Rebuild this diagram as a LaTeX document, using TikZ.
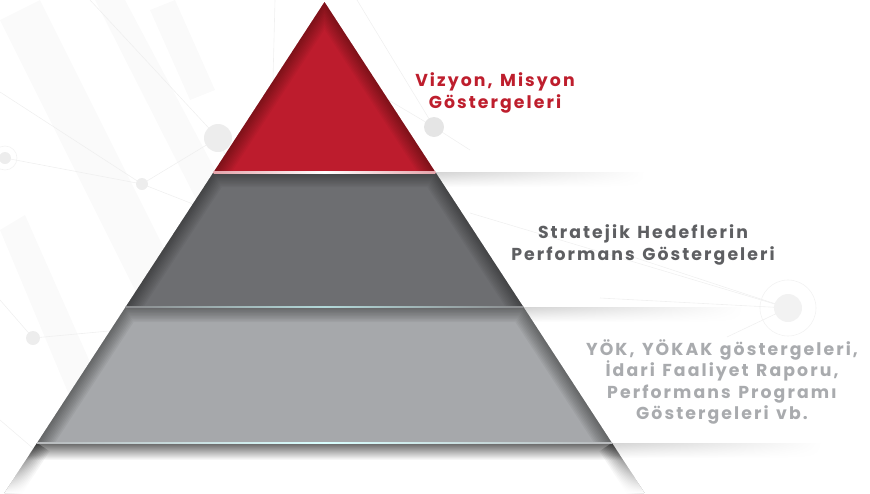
\documentclass[tikz,border=0pt]{standalone}
\usepackage{fontspec}
\setmainfont{Poppins}
\newfontfamily\tierfont{Poppins}[LetterSpace=12, WordSpace=1.3]
\usepackage{xcolor}
\usepackage{tikz}
\usetikzlibrary{positioning,fadings}

\definecolor{tierred}{HTML}{BD1C2D}
\definecolor{tierdark}{HTML}{6D6E71}
\definecolor{tierlight}{HTML}{A6A8AB}
\definecolor{txtred}{HTML}{BE1E2D}
\definecolor{txtdark}{HTML}{5E5F62}
\definecolor{txtlight}{HTML}{A9ABAE}

\tikzset{
  tiertext/.style={font=\tierfont\bfseries\fontsize{17.3}{21.5}\selectfont, align=center},
  netline/.style={draw=black!6, line width=0.6pt},
  netdot/.style={fill=black!7},
  netring/.style={draw=black!5, line width=0.6pt},
  stripe/.style={fill=black!2},
}

\begin{document}
\begin{tikzpicture}[x=1pt,y=-1pt]
\useasboundingbox (0,0) rectangle (870,493);

% Faint stripes behind the left half
\fill[stripe] (0,20) -- (40,0) -- (250,420) -- (210,440) -- cycle;
\fill[stripe] (95,0) -- (125,0) -- (300,330) -- (270,345) -- cycle;
\fill[stripe] (0,230) -- (25,215) -- (120,430) -- (90,445) -- cycle;
\fill[stripe] (150,10) -- (175,0) -- (215,90) -- (190,100) -- cycle;

% Network lines and dots
\draw[netline] (0,92) -- (142,184) -- (218,138);
\draw[netline] (5,158) -- (142,184) -- (310,250);
\draw[netline] (90,0) -- (218,138) -- (262,240);
\draw[netline] (357,0) -- (434,127);
\draw[netline] (275,0) -- (273,80);
\draw[netline] (380,95) -- (434,127) -- (470,150);
\draw[netline] (0,300) -- (33,338) -- (120,330);
\draw[netline] (0,420) -- (70,480);
\draw[netline] (470,213) -- (788,308);
\draw[netline] (633,257) -- (788,308) -- (727,337);
\draw[netline] (600,298) -- (788,308);
\draw[netline] (170,493) -- (220,443);
\draw[netline] (330,493) -- (300,443);
\fill[netdot] (218,138) circle (14);
\fill[black!10] (434,127) circle (10);
\fill[netdot] (5,158) circle (6);
\draw[netring] (5,158) circle (12);
\fill[netdot] (142,184) circle (6);
\fill[netdot] (33,338) circle (7);
\fill[black!5] (788,308) circle (14);
\draw[netring] (788,308) circle (28);

% Corner points of the pyramid
\coordinate (apex) at (324.5,2);
\coordinate (l1) at (213.7,172);
\coordinate (r1) at (435.3,172);
\coordinate (l2) at (125.6,307);
\coordinate (r2) at (523.4,307);
\coordinate (l3) at (37.0,443);
\coordinate (r3) at (612.0,443);
\coordinate (l4) at (4.4,493);
\coordinate (r4) at (644.6,493);

% Shelf shadows to the right of each step
\shade[top color=black!17, bottom color=white, path fading=east] (r1) rectangle ++(210,15);
\shade[top color=black!17, bottom color=white, path fading=east] (r2) rectangle ++(220,15);
\shade[top color=black!17, bottom color=white, path fading=east] (r3) rectangle ++(210,15);

% Top tier
\fill[tierred] (apex) -- (r1) -- (l1) -- cycle;
\begin{scope}
  \clip (apex) -- (r1) -- (l1) -- cycle;
  \foreach \w in {3,6,...,30}
    \draw[black, opacity=0.035, line width=\w] (l1) -- (apex) -- (r1);
\end{scope}

% Middle tier
\fill[tierdark] (l1) -- (r1) -- (r2) -- (l2) -- cycle;
\begin{scope}
  \clip (l1) -- (r1) -- (r2) -- (l2) -- cycle;
  \foreach \w in {3,6,...,30}
    \draw[black, opacity=0.04, line width=\w] (l2) -- (l1) -- (r1) -- (r2);
\end{scope}

% Bottom tier
\fill[tierlight] (l2) -- (r2) -- (r3) -- (l3) -- cycle;
\begin{scope}
  \clip (l2) -- (r2) -- (r3) -- (l3) -- cycle;
  \foreach \w in {3,6,...,30}
    \draw[black, opacity=0.045, line width=\w] (l3) -- (l2) -- (r2) -- (r3);
\end{scope}

% Base plinth fading out
\fill[white] (l3) -- (r3) -- (r4) -- (l4) -- cycle;
\begin{scope}
  \clip (l3) -- (r3) -- (r4) -- (l4) -- cycle;
  \shade[top color=black!60, bottom color=white] (0,443) rectangle (650,460);
  \foreach \w in {3,6,...,30}
    \draw[black, opacity=0.05, line width=\w] (l4) -- (l3) (r3) -- (r4);
  \fill[white, path fading=north] (0,455) rectangle (650,493);
\end{scope}

% Light edges between the tiers
\shade[left color=tierred!40, right color=tierred!40, middle color=white] ([yshift=-1]l1) rectangle ([yshift=1]r1);
\shade[left color=tierdark!80, right color=tierdark!80, middle color=teal!30] ([yshift=-0.8]l2) rectangle ([yshift=0.8]r2);
\shade[left color=tierlight!80, right color=tierlight!80, middle color=cyan!15] ([yshift=-0.8]l3) rectangle ([yshift=0.8]r3);

% Labels
\node[tiertext, text=txtred] (vision) at (495,93) {Vizyon, Misyon\\Göstergeleri};
\node[tiertext, text=txtdark] (strategy) at (643,245) {Stratejik Hedeflerin\\Performans Göstergeleri};
\node[tiertext, text=txtlight] (reports) at (722,382) {YÖK, YÖKAK göstergeleri,\\İdari Faaliyet Raporu,\\Performans Programı\\Göstergeleri vb.};

\end{tikzpicture}
\end{document}
